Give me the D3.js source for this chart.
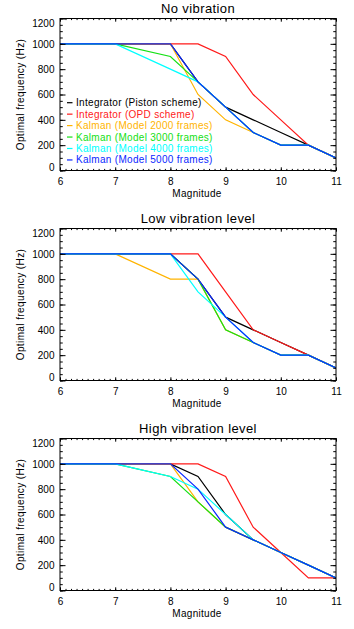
<!DOCTYPE html>
<html>
<head>
<meta charset="utf-8">
<script src="https://cdn.jsdelivr.net/npm/d3@7"></script>
<style>
  html, body { margin: 0; padding: 0; background: #fff; }
  svg { display: block; font-family: "Liberation Sans", Arial, sans-serif; }
</style>
</head>
<body>
<svg id="chart" width="354" height="629"></svg>
<script>
// ---- data ----
const magnitudes = [6, 7, 8, 8.5, 9, 9.5, 10, 10.5, 11];
const seriesNames = [
  "Integrator (Piston scheme)",
  "Integrator (OPD scheme)",
  "Kalman (Model 2000 frames)",
  "Kalman (Model 3000 frames)",
  "Kalman (Model 4000 frames)",
  "Kalman (Model 5000 frames)"
];
const seriesColors = ["#000000", "#ff1a1a", "#ffb400", "#14e014", "#00ffff", "#0a28ff"];
const panelTitles = ["No vibration", "Low vibration level", "High vibration level"];

// No vibration
const noVibPiston   = [1000, 1000, 1000, 700, 500, 400, 300, 200, 100];
const noVibOPD      = [1000, 1000, 1000, 1000, 900, 600, 400, 200, 100];
const noVibK2000    = [1000, 1000, 1000, 600, 400, 300, 200, 200, 100];
const noVibK3000    = [1000, 1000, 900, 700, 500, 300, 200, 200, 100];
const noVibK4000    = [1000, 1000, 800, 700, 500, 300, 200, 200, 100];
const noVibK5000    = [1000, 1000, 1000, 700, 500, 300, 200, 200, 100];
// Low vibration
const lowVibPiston  = [1000, 1000, 1000, 800, 500, 400, 300, 200, 100];
const lowVibOPD     = [1000, 1000, 1000, 1000, 700, 400, 300, 200, 100];
const lowVibK2000   = [1000, 1000, 800, 800, 400, 300, 200, 200, 100];
const lowVibK3000   = [1000, 1000, 1000, 800, 400, 300, 200, 200, 100];
const lowVibK4000   = [1000, 1000, 1000, 700, 500, 300, 200, 200, 100];
const lowVibK5000   = [1000, 1000, 1000, 800, 500, 300, 200, 200, 100];
// High vibration
const highVibPiston = [1000, 1000, 1000, 900, 600, 400, 300, 200, 100];
const highVibOPD    = [1000, 1000, 1000, 1000, 900, 500, 300, 100, 100];
const highVibK2000  = [1000, 1000, 1000, 700, 500, 400, 300, 200, 100];
const highVibK3000  = [1000, 1000, 900, 700, 500, 400, 300, 200, 100];
const highVibK4000  = [1000, 1000, 900, 800, 600, 400, 300, 200, 100];
const highVibK5000  = [1000, 1000, 1000, 800, 500, 400, 300, 200, 100];

const xTickValues = [6, 7, 8, 9, 10, 11];
const yTickValues = [0, 200, 400, 600, 800, 1000, 1200];

const panels = [
  [noVibPiston, noVibOPD, noVibK2000, noVibK3000, noVibK4000, noVibK5000],
  [lowVibPiston, lowVibOPD, lowVibK2000, lowVibK3000, lowVibK4000, lowVibK5000],
  [highVibPiston, highVibOPD, highVibK2000, highVibK3000, highVibK4000, highVibK5000]
];

// ---- layout ----
const svg = d3.select("#chart");
const left = 60, right = 336;
const panelTops = [18.5, 228.5, 438.5];
const plotH = 152;

const x = d3.scaleLinear().domain([6, 11]).range([left, right]);
const xMinor = d3.range(6, 11.0001, 0.1).map(v => +v.toFixed(1));
const yMinor = d3.range(0, 1201, 50);

panels.forEach((series, pi) => {
  const top = panelTops[pi], bottom = top + plotH;
  const y = d3.scaleLinear().domain([0, 1200]).range([bottom, top]);
  const g = svg.append("g");

  // title
  g.append("text").attr("x", (left + right) / 2).attr("y", top - 10)
    .attr("text-anchor", "middle").attr("dominant-baseline", "central")
    .attr("font-size", 13).attr("letter-spacing", 0.4).attr("fill", "#000")
    .text(panelTitles[pi]);

  // clip
  const clipId = "clip" + pi;
  g.append("clipPath").attr("id", clipId).append("rect")
    .attr("x", left).attr("y", top).attr("width", right - left).attr("height", plotH);

  // lines
  const line = d3.line().x((d, i) => x(magnitudes[i])).y(d => y(d));
  series.forEach((vals, si) => {
    g.append("path").datum(vals)
      .attr("d", line).attr("fill", "none")
      .attr("stroke", seriesColors[si]).attr("stroke-width", 1.2)
      .attr("clip-path", `url(#${clipId})`);
  });

  // axes (inward ticks on all four sides)
  const xLen = 3.2, yLen = 5.5;
  const bottomAxis = d3.axisBottom(x).tickValues(xTickValues).tickSize(-xLen).tickPadding(7.7).tickFormat(d3.format("d"));
  const bAx = g.append("g").attr("transform", `translate(0,${bottom})`).call(bottomAxis);
  const topAxis = d3.axisTop(x).tickValues(xTickValues).tickSize(-xLen).tickFormat("");
  const tAx = g.append("g").attr("transform", `translate(0,${top})`).call(topAxis);
  const bMin = g.append("g").attr("transform", `translate(0,${bottom})`)
    .call(d3.axisBottom(x).tickValues(xMinor).tickSize(-xLen / 2).tickFormat(""));
  const tMin = g.append("g").attr("transform", `translate(0,${top})`)
    .call(d3.axisTop(x).tickValues(xMinor).tickSize(-xLen / 2).tickFormat(""));

  const leftAxis = d3.axisLeft(y).tickValues(yTickValues).tickSize(-yLen).tickPadding(5.5).tickFormat(d3.format("d"));
  const lAx = g.append("g").attr("transform", `translate(${left},0)`).call(leftAxis);
  const rAx = g.append("g").attr("transform", `translate(${right},0)`)
    .call(d3.axisRight(y).tickValues(yTickValues).tickSize(-yLen).tickFormat(""));
  const lMin = g.append("g").attr("transform", `translate(${left},0)`)
    .call(d3.axisLeft(y).tickValues(yMinor).tickSize(-yLen / 2).tickFormat(""));
  const rMin = g.append("g").attr("transform", `translate(${right},0)`)
    .call(d3.axisRight(y).tickValues(yMinor).tickSize(-yLen / 2).tickFormat(""));

  [bAx, tAx, bMin, tMin, lAx, rAx, lMin, rMin].forEach(a => {
    a.select(".domain").remove();
    a.selectAll("line").attr("stroke", "#000").attr("stroke-width", 1);
    a.selectAll("text").attr("font-size", 10).attr("fill", "#000")
      .attr("font-family", "'Liberation Sans', Arial, sans-serif");
  });
  // shift outermost y labels inward like the reference
  lAx.selectAll(".tick text").attr("dy", d => d === 1200 ? "0.8em" : d === 0 ? "-0.05em" : "0.32em");

  // box
  g.append("rect").attr("x", left).attr("y", top).attr("width", right - left).attr("height", plotH)
    .attr("fill", "none").attr("stroke", "#000").attr("stroke-width", 1);

  // axis titles
  g.append("text").attr("x", (left + right) / 2 - 1).attr("y", bottom + 22.5)
    .attr("text-anchor", "middle").attr("dominant-baseline", "central")
    .attr("font-size", 10).attr("letter-spacing", 0.3).text("Magnitude");
  g.append("text").attr("transform", `translate(20,${(top + bottom) / 2}) rotate(-90)`)
    .attr("text-anchor", "middle").attr("dominant-baseline", "central")
    .attr("font-size", 10).attr("letter-spacing", 0.4).text("Optimal frequency (Hz)");

  // legend (first panel only)
  if (pi === 0) {
    const lg = g.append("g");
    seriesNames.forEach((name, si) => {
      const ly = 102.7 + si * 11.45;
      lg.append("line").attr("x1", 67).attr("x2", 72.5).attr("y1", ly).attr("y2", ly)
        .attr("stroke", seriesColors[si]).attr("stroke-width", 1.2);
      lg.append("text").attr("x", 76).attr("y", ly).attr("dominant-baseline", "central")
        .attr("font-size", 10).attr("letter-spacing", 0.3).attr("fill", seriesColors[si])
        .text(name);
    });
  }
});
</script>
</body>
</html>
